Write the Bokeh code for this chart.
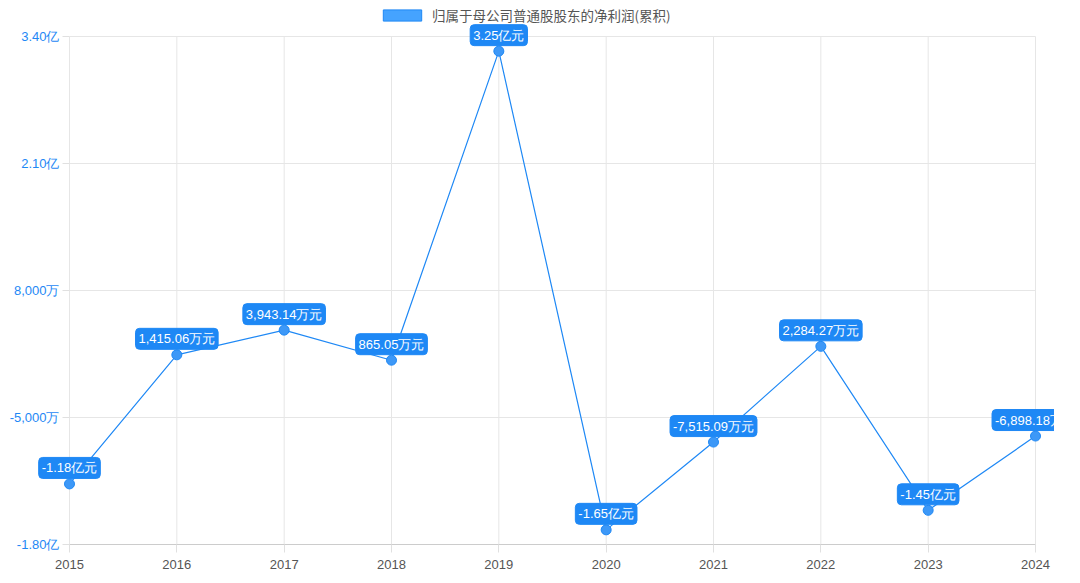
from bokeh.plotting import figure
from bokeh.models import Range1d, FixedTicker, Label, ColumnDataSource, Legend, LegendItem
from bokeh.embed import file_html
from bokeh.resources import INLINE

years = [2015, 2016, 2017, 2018, 2019, 2020, 2021, 2022, 2023, 2024]
profit_wan = [-11800, 1415.06, 3943.14, 865.05, 32500, -16500, -7515.09, 2284.27, -14500, -6898.18]
point_labels = ["-1.18亿元", "1,415.06万元", "3,943.14万元", "865.05万元", "3.25亿元",
                "-1.65亿元", "-7,515.09万元", "2,284.27万元", "-1.45亿元", "-6,898.18万元"]
y_ticks = [-18000, -5000, 8000, 21000, 34000]
y_tick_labels = ["-1.80亿", "-5,000万", "8,000万", "2.10亿", "3.40亿"]
series_name = "归属于母公司普通股股东的净利润(累积)"

BLUE = "#1e88f5"
FONT = "Liberation Sans"
CJK = "Noto Sans CJK SC"

W, H = 1054, 583
left_px, right_px, top_px, bottom_px = 69, 1035, 36, 544
ppx = (right_px - left_px) / (years[-1] - years[0])
ppy = (bottom_px - top_px) / (y_ticks[-1] - y_ticks[0])
x_start = years[0] - left_px / ppx
x_end = years[-1] + (W - right_px) / ppx
y_end = y_ticks[-1] + top_px / ppy
y_start = y_ticks[0] - (H - bottom_px) / ppy

p = figure(width=W, height=H, output_backend="svg", toolbar_location=None,
           x_range=Range1d(x_start, x_end), y_range=Range1d(y_start, y_end),
           min_border_left=0, min_border_right=0, min_border_top=0, min_border_bottom=0)
p.outline_line_color = None
p.background_fill_color = "white"
p.xgrid.visible = False
p.ygrid.visible = False

n = len(years)
# grid lines limited to the data area
p.segment(x0=years, y0=[y_ticks[0]] * n, x1=years, y1=[y_ticks[-1]] * n,
          line_color="#e6e6e6", line_width=1)
m = len(y_ticks)
p.segment(x0=[years[0]] * m, y0=y_ticks, x1=[years[-1]] * m, y1=y_ticks,
          line_color="#e6e6e6", line_width=1)

src = ColumnDataSource(dict(x=years, y=profit_wan, label=point_labels))

# legend-only renderer (no visible data)
nan = float("nan")
leg_r = p.quad(left=[nan], right=[nan], top=[nan], bottom=[nan],
               fill_color="#45a3ff", line_color=BLUE)

p.line("x", "y", source=src, line_color=BLUE, line_width=1.2)
p.scatter("x", "y", source=src, size=10, fill_color="#3d98f7", line_color=BLUE, line_width=1)

for xv, yv, txt in zip(years, profit_wan, point_labels):
    p.add_layout(Label(x=xv, y=yv, text=txt, x_offset=0, y_offset=16,
                       text_align="center", text_baseline="middle", text_color="white",
                       text_font=FONT, text_font_size="13px",
                       background_fill_color=BLUE, border_line_color=BLUE,
                       border_radius=4, padding=3))

# x axis drawn at the lowest tick value
p.xaxis.fixed_location = y_ticks[0]
p.xaxis.ticker = FixedTicker(ticks=years)
p.xaxis.bounds = (years[0], years[-1])
p.xaxis.axis_line_color = "#cccccc"
p.xaxis.major_tick_line_color = "#e0e0e0"
p.xaxis.major_tick_out = 8
p.xaxis.major_tick_in = 0
p.xaxis.minor_tick_line_color = None
p.xaxis.major_label_text_color = "#555555"
p.xaxis.major_label_text_font = FONT
p.xaxis.major_label_text_font_size = "13px"
p.xaxis.major_label_standoff = 7

# y axis drawn at the first year
p.yaxis.fixed_location = years[0]
p.yaxis.ticker = FixedTicker(ticks=y_ticks)
p.yaxis.bounds = (y_ticks[0], y_ticks[-1])
p.yaxis.major_label_overrides = {t: l for t, l in zip(y_ticks, y_tick_labels)}
p.yaxis.axis_line_color = None
p.yaxis.major_tick_line_color = "#e0e0e0"
p.yaxis.major_tick_out = 7
p.yaxis.major_tick_in = 0
p.yaxis.minor_tick_line_color = None
p.yaxis.major_label_text_color = BLUE
p.yaxis.major_label_text_font = FONT
p.yaxis.major_label_text_font_size = "13px"
p.yaxis.major_label_standoff = 3

legend = Legend(items=[LegendItem(label=series_name, renderers=[leg_r])],
                location=(378, H - 25), orientation="horizontal",
                glyph_width=48, glyph_height=14, label_text_font_size="13.5px",
                label_text_font=CJK, label_text_color="#555555",
                background_fill_alpha=0, border_line_color=None,
                padding=0, margin=0, label_standoff=6, label_height=16)
p.add_layout(legend, "center")

open("out.html", "w").write(file_html(p, INLINE))
